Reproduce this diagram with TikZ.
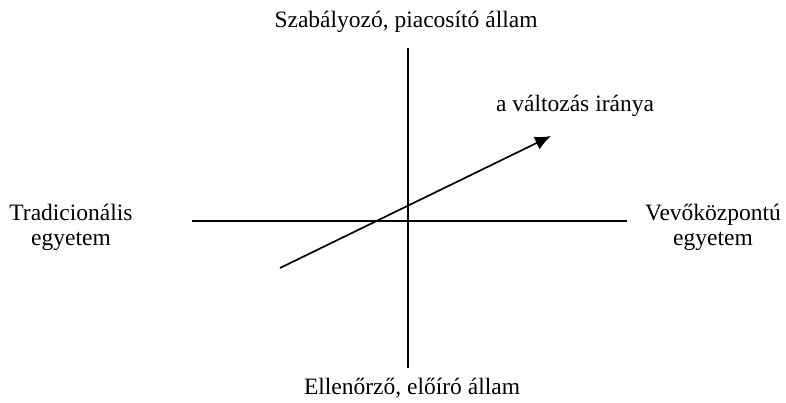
\documentclass[tikz,border=0pt]{standalone}
\usepackage{fontspec}
\setmainfont{Liberation Serif}
\usetikzlibrary{arrows.meta,positioning}

\begin{document}
\begin{tikzpicture}[
 x=1pt, y=-1pt, >=Latex, font=\fontsize{23.5}{25}\selectfont,
 lbl/.style={align=center, inner sep=0pt},
 axis/.style={draw, line width=1.7pt}]
\useasboundingbox (0,0) rectangle (786,403);
% axis ends
\coordinate (top) at (408,48);
\coordinate (bot) at (408,368);
\coordinate (west) at (192,221);
\coordinate (east) at (627,221);
\draw[axis] (top) -- (bot);
\draw[axis] (west) -- (east);
% pole labels
\node[lbl] (state1) at (406,22) {Szabályozó, piacosító állam};
\node[lbl] (state2) at (412,388) {Ellenőrző, előíró állam};
\node[lbl] (uni1) at (71,227) {Tradicionális\\egyetem};
\node[lbl] (uni2) at (713,227) {Vevőközpontú\\egyetem};
% direction of change
\coordinate (from) at (280,268);
\coordinate (to) at (551,136);
\draw[axis, -{Latex[length=16pt,width=14pt]}] (from) -- (to);
\node[lbl] (dir) at (575,106) {a változás iránya};
\end{tikzpicture}
\end{document}
